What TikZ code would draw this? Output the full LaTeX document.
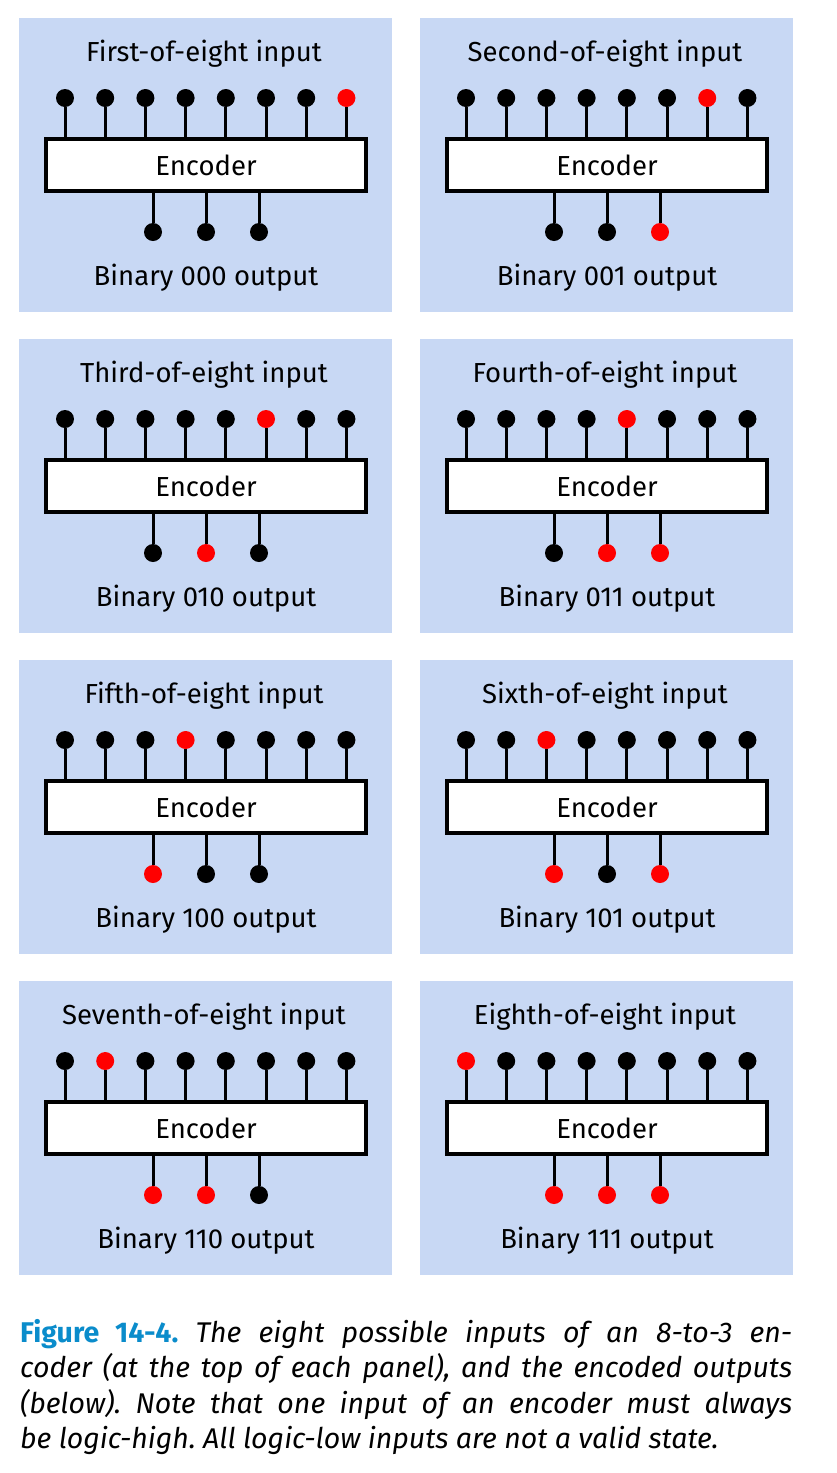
\documentclass[tikz,border=0pt]{standalone}
\usepackage{fontspec}
\setmainfont{Fira Sans}
\frenchspacing

\definecolor{panelblue}{HTML}{C8D8F4}
\definecolor{hotred}{HTML}{FF0000}
\definecolor{figblue}{HTML}{0A8CCB}

\begin{document}
\begin{tikzpicture}[x=1pt, y=-1pt,
    panel/.style={fill=panelblue, minimum width=373pt, minimum height=294pt, inner sep=0pt, anchor=north west},
    encoder/.style={draw, line width=4pt, fill=white, minimum width=320pt, minimum height=52pt, inner sep=0pt, font=\fontsize{27.5}{32}\selectfont},
    pindot/.style={circle, minimum size=18pt, inner sep=0pt},
    stem/.style={line width=3pt},
    paneltext/.style={font=\fontsize{27.5}{32}\selectfont, inner sep=0pt, anchor=base}]

    % Page and margins
    \fill[white] (0,0) rectangle (837,1473);
    \useasboundingbox (0,0) rectangle (837,1473);

    % Draw the eight panels
    \foreach \n/\ordname/\bitlist/\outbits in {1/First/{0,0,0}/000, 2/Second/{0,0,1}/001,
        3/Third/{0,1,0}/010, 4/Fourth/{0,1,1}/011, 5/Fifth/{1,0,0}/100,
        6/Sixth/{1,0,1}/101, 7/Seventh/{1,1,0}/110, 8/Eighth/{1,1,1}/111}{
        \pgfmathtruncatemacro\col{mod(\n-1,2)}
        \pgfmathtruncatemacro\row{(\n-1)/2}
        \pgfmathsetmacro\xo{19+401*\col}
        \pgfmathsetmacro\yo{18+321*\row}
        \pgfmathtruncatemacro\hot{9-\n}

        % Background and texts
        \node[panel] (panel\n) at (\xo,\yo) {};
        \node[paneltext] (title\n) at (\xo+185,\yo+43.7) {\ordname-of-eight input};
        \node[encoder] (enc\n) at (\xo+187,\yo+147) {Encoder};
        \node[paneltext] (result\n) at (\xo+187,\yo+267) {Binary \outbits{} output};

        % Inputs on top
        \foreach \i in {1,...,8}{
            \ifnum\i=\hot \def\dotcol{hotred}\else \def\dotcol{black}\fi
            \node[pindot, fill=\dotcol] (in\n-\i) at (\xo+5.8+40.2*\i,\yo+80) {};
            \draw[stem] (in\n-\i) -- (in\n-\i |- enc\n.north);
        }

        % Outputs below
        \foreach \b [count=\j] in \bitlist{
            \ifnum\b=1 \def\dotcol{hotred}\else \def\dotcol{black}\fi
            \node[pindot, fill=\dotcol] (out\n-\j) at (\xo+81+53*\j,\yo+214) {};
            \draw[stem] (out\n-\j) -- (out\n-\j |- enc\n.south);
        }
    }

    % Caption
    \node[anchor=north west, text width=772pt, align=justify, inner sep=0pt,
        font=\itshape\fontsize{28.5}{35.5}\selectfont] (caption) at (20,1319)
        {{\color{figblue}\bfseries\upshape Figure 14-4.} The eight possible inputs of an 8-to-3 en-\linebreak
        coder (at the top of each panel), and the encoded outputs\linebreak
        (below). Note that one input of an encoder must always\linebreak
        be logic-high. All logic-low inputs are not a valid state.};

\end{tikzpicture}
\end{document}
